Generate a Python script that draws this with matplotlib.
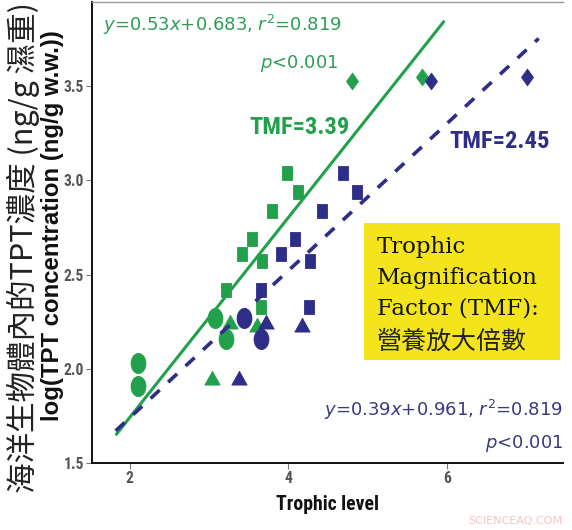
import matplotlib
matplotlib.use("Agg")
import matplotlib.pyplot as plt
import numpy as np
from matplotlib.path import Path
from matplotlib.patches import Rectangle
from matplotlib import font_manager as fm

# ---------------- data ----------------
# squares (green = one trophic-level estimate, navy = the other)
sq_tpt = [3.04, 2.94, 2.84, 2.69, 2.61, 2.57, 2.42, 2.33]
sq_tl_green = [3.985, 4.12, 3.79, 3.535, 3.41, 3.67, 3.215, 3.66]
sq_tl_navy = [4.695, 4.87, 4.43, 4.085, 3.91, 4.27, 3.66, 4.26]

circ_tpt_green = [2.27, 2.16, 2.03, 1.91]
circ_tl_green = [3.07, 3.215, 2.10, 2.10]
circ_tpt_navy = [2.27, 2.16]
circ_tl_navy = [3.446, 3.65]

tri_tpt = [2.25, 2.23, 1.95]
tri_tl_green = [3.26, 3.60, 3.03]
tri_tl_navy = [3.72, 4.17, 3.38]

dia_tpt = [3.53, 3.55]
dia_tl_green = [4.80, 5.69]
dia_tl_navy = [5.80, 7.01]

# regressions
green_slope, green_icpt = 0.53, 0.683
navy_slope, navy_icpt = 0.39, 0.961
green_xrange = [1.82, 5.97]
navy_xrange = [1.82, 7.16]

xticks = [2, 4, 6]
yticks = [1.5, 2.0, 2.5, 3.0, 3.5]
ytick_labels = ["1.5", "2.0", "2.5", "3.0", "3.5"]

green_eq = r"$y$=0.53$x$+0.683, $r^2$=0.819"
navy_eq = r"$y$=0.39$x$+0.961, $r^2$=0.819"
p_text = r"$p$<0.001"
tmf_green = "TMF=3.39"
tmf_navy = "TMF=2.45"
box_lines = ["Trophic", "Magnification", "Factor (TMF):", "營養放大倍數"]
ylabel_en = "log(TPT concentration (ng/g w.w.))"
ylabel_zh = "海洋生物體內的TPT濃度 (ng/g 濕重)"
xlabel = "Trophic level"
watermark = "SCIENCEAQ.COM"

# ---------------- style ----------------
GREEN = "#22a04b"
GREEN_TXT = "#2f9e55"
NAVY = "#2e2d88"
NAVY_TXT = "#3a3a80"
YELLOW = "#f4e41c"

ttf = fm.fontManager.ttflist
names = {f.name for f in ttf}
NARROW_KW, NSCALE = {"family": "Liberation Sans"}, 0.82
if "Liberation Sans Narrow" in names:
    NARROW_KW, NSCALE = {"family": "Liberation Sans Narrow"}, 1.0
elif "Roboto Condensed" in names:
    NARROW_KW, NSCALE = {"family": "Roboto Condensed"}, 0.98
elif any(f.name == "DejaVu Sans" and str(f.stretch) in ("condensed", "semi-condensed")
         for f in ttf):
    NARROW_KW, NSCALE = {"family": "DejaVu Sans", "fontstretch": "condensed"}, 0.82
CJK = ["Noto Sans CJK TC", "DejaVu Sans"]
plt.rcParams["mathtext.fontset"] = "dejavusans"

W, H = 572, 530
fig = plt.figure(figsize=(W / 100, H / 100), dpi=100)
ax = fig.add_axes([92.3 / W, 1 - 463 / H, (563 - 92.3) / W, (463 - 2) / H])
ax.set_xlim(1.525, 7.467)
ax.set_ylim(1.5, 3.947)


def mk(verts):
    v = np.array(verts + [verts[0]])
    codes = [Path.MOVETO] + [Path.LINETO] * (len(verts) - 1) + [Path.CLOSEPOLY]
    return Path(v, codes)


sq_marker = mk([(-0.36, -0.5), (0.36, -0.5), (0.36, 0.5), (-0.36, 0.5)])
tri_marker = mk([(-0.5, -0.43), (0.5, -0.43), (0.0, 0.47)])
dia_marker = mk([(0, 0.5), (0.36, 0), (0, -0.5), (-0.36, 0)])
uc = Path.unit_circle()
ell_marker = Path(uc.vertices * np.array([0.74, 1.0]), uc.codes)


def scat(x, y, marker, ms, color, z):
    ax.plot(x, y, linestyle="none", marker=marker, markersize=ms,
            markerfacecolor=color, markeredgecolor=color, markeredgewidth=0.6,
            zorder=z)


# green first, navy over it
scat(sq_tl_green, sq_tpt, sq_marker, 10, GREEN, 3)
scat(circ_tl_green, circ_tpt_green, ell_marker, 14.5, GREEN, 3)
scat(tri_tl_green, tri_tpt, tri_marker, 11, GREEN, 3)
scat(dia_tl_green, dia_tpt, dia_marker, 12, GREEN, 3)
scat(sq_tl_navy, sq_tpt, sq_marker, 10, NAVY, 4)
scat(circ_tl_navy, circ_tpt_navy, ell_marker, 14.5, NAVY, 4)
scat(tri_tl_navy, tri_tpt, tri_marker, 11, NAVY, 4)
scat(dia_tl_navy, dia_tpt, dia_marker, 12, NAVY, 4)

gx = np.array(green_xrange)
ax.plot(gx, green_slope * gx + green_icpt, color=GREEN, lw=2.2, zorder=5,
        solid_capstyle="butt")
nx = np.array(navy_xrange)
ax.plot(nx, navy_slope * nx + navy_icpt, color=NAVY, lw=2.6, zorder=5,
        dashes=(3.4, 3.2), dash_capstyle="butt")

# axes styling
ax.spines["right"].set_visible(False)
ax.spines["top"].set_color("#9a9a9a")
ax.spines["top"].set_linewidth(1.0)
for s in ["left", "bottom"]:
    ax.spines[s].set_linewidth(1.4)
    ax.spines[s].set_color("#111111")
ax.set_xticks(xticks)
ax.set_xticklabels([str(t) for t in xticks])
ax.set_yticks(yticks)
ax.set_yticklabels(ytick_labels)
ax.tick_params(direction="out", length=4, width=0.8, color="#777777", pad=2)
tick_size = 11.5 * NSCALE if NSCALE < 1 else 12
tick_size = min(tick_size, 9.5) if NSCALE < 0.9 else tick_size
for lab in ax.get_xticklabels() + ax.get_yticklabels():
    lab.set_fontfamily(NARROW_KW["family"])
    if "fontstretch" in NARROW_KW:
        lab.set_fontstretch(NARROW_KW["fontstretch"])
    lab.set_fontsize(tick_size)
    lab.set_fontweight("bold")
    lab.set_color("#555555")

# axis titles
fig.text(328 / W, 1 - 505 / H, xlabel, ha="center", va="center",
         fontsize=14.5 * NSCALE, fontweight="bold", color="#111111", **NARROW_KW)
fig.text(53 / W, 1 - 226 / H, ylabel_en, rotation=90, ha="center", va="center",
         family="Liberation Sans", fontsize=17.3, fontweight="bold", color="#111111")
fig.text(23 / W, 1 - 493 / H, ylabel_zh, rotation=90, ha="center", va="bottom",
         family=CJK, fontsize=22, color="#222222")

# equations
fig.text(103 / W, 1 - 25 / H, green_eq, ha="left", va="center",
         fontsize=13, color=GREEN_TXT)
fig.text(338 / W, 1 - 63 / H, p_text, ha="right", va="center",
         fontsize=13, color=GREEN_TXT)
fig.text(563 / W, 1 - 410 / H, navy_eq, ha="right", va="center",
         fontsize=13, color=NAVY_TXT)
fig.text(563 / W, 1 - 443 / H, p_text, ha="right", va="center",
         fontsize=13, color=NAVY_TXT)

# TMF labels
fig.text(300 / W, 1 - 127 / H, tmf_green, ha="center", va="center",
         fontsize=18 * NSCALE, fontweight="bold", color=GREEN, **NARROW_KW)
fig.text(500 / W, 1 - 142 / H, tmf_navy, ha="center", va="center",
         fontsize=18 * NSCALE, fontweight="bold", color=NAVY, **NARROW_KW)

# yellow box
fig.patches.append(Rectangle((364 / W, 1 - 360 / H), 196 / W, 137 / H,
                             transform=fig.transFigure, facecolor=YELLOW,
                             edgecolor="none", zorder=1))
baselines = [253, 284, 315, 349]
for i, (txt, yb) in enumerate(zip(box_lines, baselines)):
    if i < 3:
        fig.text(377 / W, 1 - yb / H, txt, ha="left", va="baseline",
                 family="DejaVu Serif", fontsize=16.5, color="#111111", zorder=2)
    else:
        fig.text(377 / W, 1 - yb / H, txt, ha="left", va="baseline",
                 family=CJK, fontsize=18, color="#222222", zorder=2)

fig.text(515 / W, 1 - 521 / H, watermark, ha="center", va="center",
         fontsize=8, color="#f2c4c4")

fig.savefig("out.png", dpi=100)
